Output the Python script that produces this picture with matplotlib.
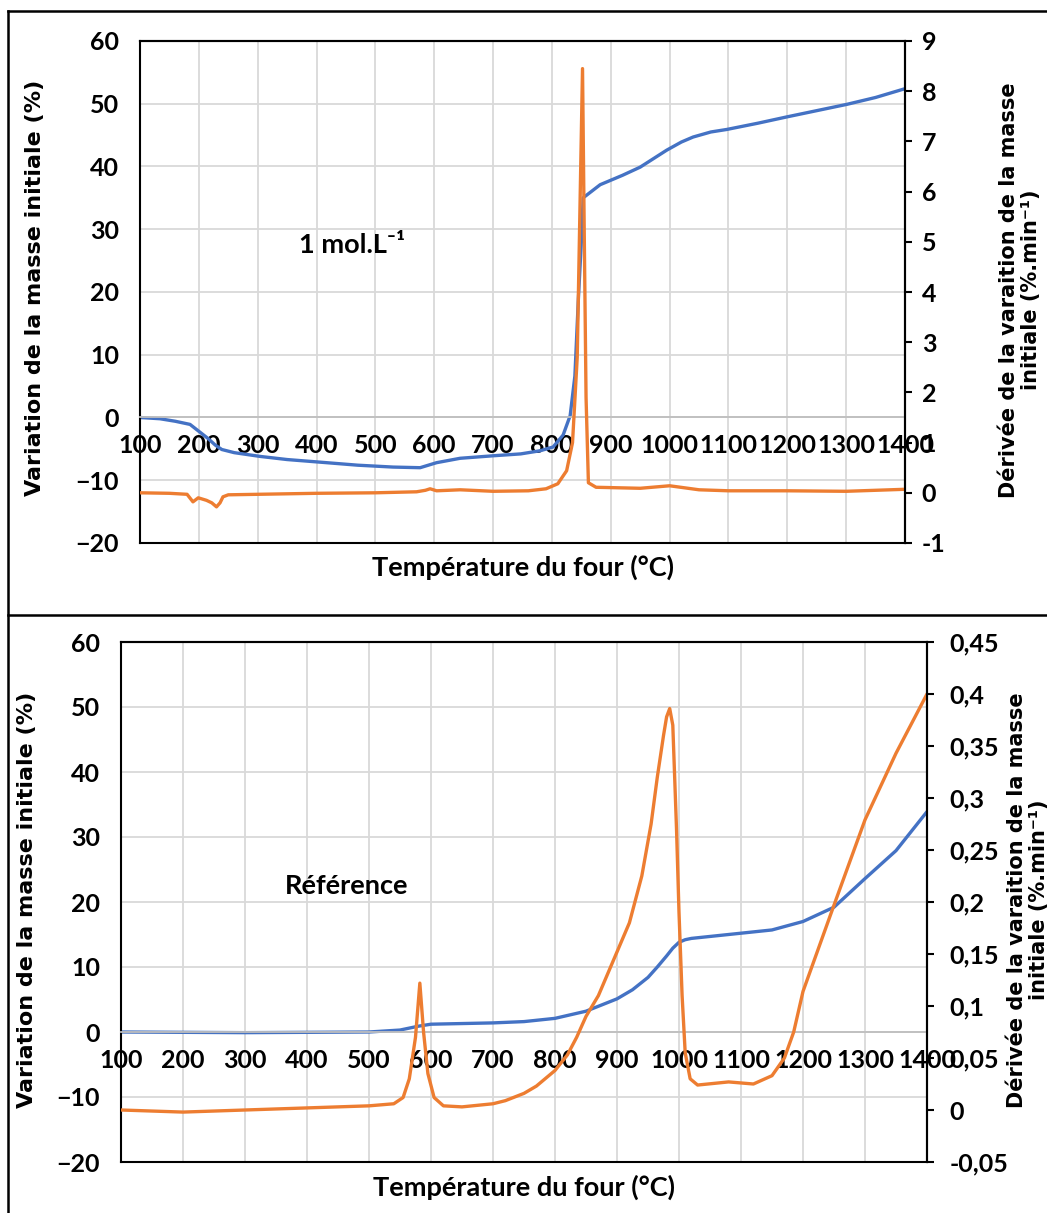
import numpy as np
import matplotlib.pyplot as plt
from matplotlib.lines import Line2D
from matplotlib.ticker import FuncFormatter, MultipleLocator

# --- 1 mol.L-1 sample (top) ---
t_mass_1 = [100, 134, 160, 185, 200, 215, 228, 239, 260, 304, 350, 417, 470, 530,
            576, 604, 644, 700, 747, 780, 802, 819, 831, 839, 845, 850, 853,
            882, 920, 950, 995, 1020, 1040, 1070, 1097, 1150, 1199, 1250, 1301, 1350, 1400]
mass_1 = [0.0, -0.2, -0.6, -1.1, -2.2, -3.3, -4.4, -5.1, -5.6, -6.2, -6.7, -7.2, -7.6, -7.9,
          -8.0, -7.2, -6.5, -6.1, -5.8, -5.3, -4.7, -2.8, 0.3, 6.6, 19.0, 28.0, 35.0,
          37.1, 38.6, 39.9, 42.6, 43.9, 44.7, 45.5, 45.9, 46.9, 47.9, 48.9, 49.9, 51.0, 52.4]

t_deriv_1 = [100, 150, 180, 190, 199, 213, 222, 230, 236, 241, 250, 300, 400, 500, 570,
             585, 593, 604, 644, 700, 760, 790, 810, 825, 835, 843, 848, 852, 855,
             858, 862, 875, 950, 1000, 1050, 1100, 1200, 1300, 1400]
deriv_1 = [0.0, -0.01, -0.03, -0.18, -0.1, -0.15, -0.2, -0.28, -0.2, -0.08, -0.04, -0.03,
           -0.01, 0.0, 0.02, 0.05, 0.08, 0.04, 0.06, 0.03, 0.04, 0.08, 0.18, 0.44, 1.0,
           2.7, 5.9, 8.45, 5.1, 1.9, 0.2, 0.11, 0.09, 0.14, 0.06, 0.04, 0.04, 0.03, 0.07]

# --- reference sample (bottom) ---
t_mass_ref = [100, 300, 500, 550, 580, 600, 700, 750, 800, 850, 900, 925, 950, 965, 980,
              990, 1000, 1010, 1020, 1100, 1150, 1200, 1250, 1300, 1350, 1400]
mass_ref = [0.0, -0.1, 0.0, 0.3, 0.9, 1.2, 1.4, 1.6, 2.1, 3.2, 5.1, 6.5, 8.4, 10.0, 11.7,
            12.9, 13.8, 14.2, 14.4, 15.2, 15.7, 17.0, 19.2, 23.6, 27.9, 33.9]

t_deriv_ref = [100, 200, 300, 400, 500, 540, 555, 565, 575, 582, 588, 595, 605, 620,
               650, 700, 720, 750, 770, 800, 820, 835, 850, 870, 900, 920, 940, 955, 965,
               975, 980, 985, 990, 996, 1000, 1005, 1010, 1018, 1030, 1080, 1120, 1150,
               1170, 1185, 1200, 1250, 1300, 1350, 1400]
deriv_ref = [0.0, -0.002, 0.0, 0.002, 0.004, 0.006, 0.012, 0.03, 0.07, 0.122, 0.075,
             0.035, 0.012, 0.004, 0.003, 0.006, 0.009, 0.016, 0.023, 0.038, 0.053, 0.07,
             0.09, 0.11, 0.152, 0.18, 0.225, 0.275, 0.32, 0.36, 0.378, 0.386, 0.37, 0.27,
             0.19, 0.11, 0.055, 0.03, 0.024, 0.027, 0.025, 0.033, 0.05, 0.075, 0.114,
             0.197, 0.279, 0.343, 0.40]

BLUE = '#4472C4'
ORANGE = '#ED7D31'
TICKFONT = 'Lato'
LABELFONT = 'DejaVu Sans'

W, H = 1047, 1213
fig = plt.figure(figsize=(W / 100, H / 100), dpi=100)


def comma(v, pos):
    return ('%g' % round(v, 3)).replace('.', ',')


def panel(rect, t_m, m, t_d, d, r_lim, r_step, r_pad, text, text_xy):
    ax = fig.add_axes(rect)
    ax.plot(t_m, m, color=BLUE, lw=2.4, solid_capstyle='round')
    ax.set_xlim(100, 1400)
    ax.set_ylim(-20, 60)
    ax.xaxis.set_major_locator(MultipleLocator(100))
    ax.yaxis.set_major_locator(MultipleLocator(10))
    ax.grid(True, color='#d9d9d9', lw=1.3)
    ax.set_axisbelow(True)
    ax.spines['bottom'].set_position(('data', 0))
    ax.spines['bottom'].set_color('#bfbfbf')
    ax.spines['bottom'].set_linewidth(1.3)
    for s in ['left', 'top', 'right']:
        ax.spines[s].set_color('black')
        ax.spines[s].set_linewidth(1.5)
    ax.tick_params(axis='x', length=0, pad=12)
    ax.tick_params(axis='y', length=0, pad=15)
    for lab in ax.get_xticklabels() + ax.get_yticklabels():
        lab.set_fontfamily(TICKFONT)
        lab.set_fontweight('bold')
        lab.set_fontsize(18)
    ax.set_ylabel('Variation de la masse initiale (%)', fontsize=16,
                  fontweight='bold', family=LABELFONT)
    ax.yaxis.label.set_va('center')
    ax.set_xlabel('Température du four (°C)', fontsize=19.5,
                  fontweight='bold', family=TICKFONT)
    ax.xaxis.set_label_coords(0.5, -0.048)
    ax.xaxis.label.set_va('center')
    ax.text(text_xy[0], text_xy[1], text, transform=ax.transAxes, ha='center',
            va='center', fontsize=19.5, fontweight='bold',
            family=[TICKFONT, 'DejaVu Sans'])

    ax2 = ax.twinx()
    ax2.plot(t_d, d, color=ORANGE, lw=2.4, solid_capstyle='round')
    ax2.set_ylim(*r_lim)
    ax2.yaxis.set_major_locator(MultipleLocator(r_step))
    ax2.yaxis.set_major_formatter(FuncFormatter(comma))
    for s in ['bottom', 'right', 'top']:
        ax2.spines[s].set_visible(True)
        ax2.spines[s].set_color('black')
        ax2.spines[s].set_linewidth(1.5)
    ax2.spines['left'].set_visible(False)
    ax2.tick_params(axis='y', length=5, width=1.5, pad=r_pad)
    for lab in ax2.get_yticklabels():
        lab.set_fontfamily(TICKFONT)
        lab.set_fontweight('bold')
        lab.set_fontsize(18)
    ax2.set_ylabel('Dérivée de la varaition de la masse\ninitiale (%.min⁻¹)',
                   fontsize=15, fontweight='bold', family=LABELFONT,
                   linespacing=1.1)
    ax2.yaxis.label.set_va('center')
    return ax, ax2


axa, axa2 = panel([140 / W, 1 - 543 / H, 765 / W, 502 / H],
                  t_mass_1, mass_1, t_deriv_1, deriv_1, (-1, 9), 1, 7,
                  '1 mol.L⁻¹', ((352 - 140) / 765, (543 - 245) / 502))
axa.yaxis.set_label_coords((35 - 140) / 765, 0.508)
axa2.yaxis.set_label_coords((1020 - 140) / 765, 0.504)

axb, axb2 = panel([121 / W, 1 - 1162 / H, 806 / W, 520 / H],
                  t_mass_ref, mass_ref, t_deriv_ref, deriv_ref, (-0.05, 0.45), 0.05, 11,
                  'Référence', ((347 - 121) / 806, (1162 - 886) / 520))
axb.yaxis.set_label_coords((27 - 121) / 806, 0.504)
axb2.yaxis.set_label_coords((1028 - 121) / 806, 0.504)

# panel frames
lw = 1.8
fig.add_artist(Line2D([8 / W, 1.0], [1 - 11 / H, 1 - 11 / H], color='black', lw=lw))
fig.add_artist(Line2D([8 / W, 8 / W], [0.0, 1 - 11 / H], color='black', lw=lw))
fig.add_artist(Line2D([8 / W, 1.0], [1 - 615 / H, 1 - 615 / H], color='black', lw=lw))

fig.savefig('out.png', dpi=100)
